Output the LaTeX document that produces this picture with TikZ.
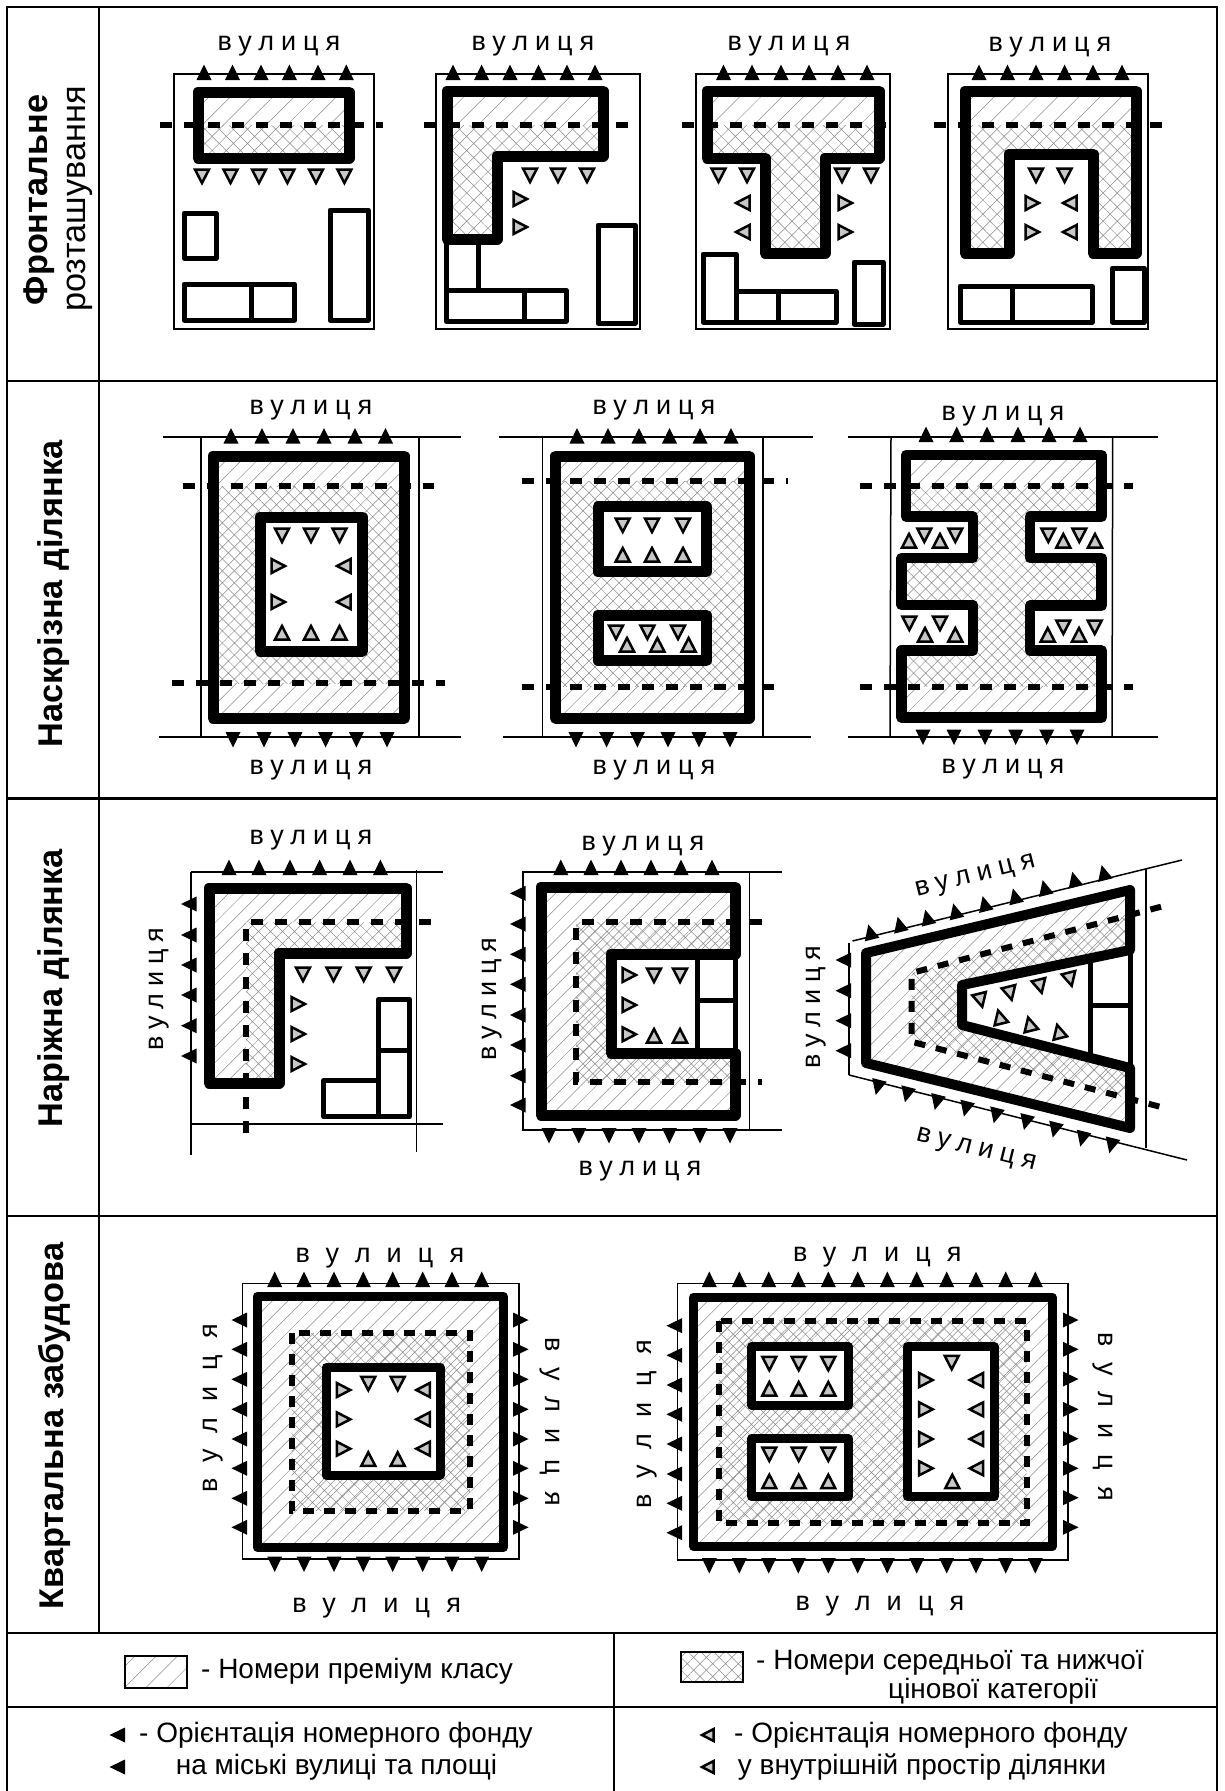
\documentclass[tikz,border=0pt]{standalone}
\usepackage{fontspec}
\setmainfont{Liberation Sans}
\newfontfamily\vulfont[LetterSpace=26]{Liberation Sans}
\newfontfamily\vulwide[LetterSpace=60]{Liberation Sans}
\usetikzlibrary{patterns.meta}
\definecolor{trigray}{gray}{0.78}
\tikzset{
  frame/.style={line width=2.6pt},
  site/.style={line width=1.5pt},
  wall/.style={line width=11pt,line join=round},
  bld/.style={line width=5pt,line join=round},
  cutl/.style={line width=6pt,dash pattern=on 12pt off 12pt},
  prem/.style={pattern={Lines[angle=45,distance=#1,line width=.5pt]},pattern color=black!45},
  prem/.default=11pt,
  midp/.style={pattern={Hatch[angle=45,distance=#1,line width=.5pt]},pattern color=black!45},
  midp/.default=8.5pt,
  intri/.style={draw=black,fill=trigray,line width=2.5pt,line join=miter},
  vul/.style={font=\fontsize{27}{30}\selectfont\vulfont,inner sep=0pt,text height=14pt,text depth=0pt},
  vulw/.style={font=\fontsize{27}{30}\selectfont\vulwide,inner sep=0pt,text height=14pt,text depth=0pt},
  rowb/.style={font=\fontsize{34.3}{38}\selectfont\bfseries,inner sep=0pt,rotate=90},
  rowr/.style={font=\fontsize{34.3}{38}\selectfont,inner sep=0pt,rotate=90},
  leg/.style={font=\fontsize{28}{32}\selectfont,anchor=west,inner sep=0pt}
}
\newcommand{\strarrow}[4][1]{\fill[shift={(#2,#3)},rotate=#4,scale=#1] (-7.5,7) -- (7.5,7) -- (0,-8.5) -- cycle;}
\newcommand{\inarrow}[4][1]{\path[intri,shift={(#2,#3)},rotate=#4,scale=#1] (-7,6.5) -- (7,6.5) -- (0,-7) -- cycle;}
\newcommand{\strh}[3]{\foreach \px in {#1} {\strarrow{\px}{#2}{#3}}}
\newcommand{\strv}[3]{\foreach \py in {#2} {\strarrow{#1}{\py}{#3}}}
\newcommand{\inh}[3]{\foreach \px in {#1} {\inarrow{\px}{#2}{#3}}}
\newcommand{\inv}[3]{\foreach \py in {#2} {\inarrow{#1}{\py}{#3}}}
\begin{document}
\begin{tikzpicture}[x=1pt,y=-1pt]
\useasboundingbox (0,0) rectangle (1224,1791);
\fill[white] (0,0) rectangle (1224,1791);
\draw[frame] (7,1791) -- (7,7) -- (1217,7) -- (1217,1791);
\draw[frame] (99,7) -- (99,1633);
\draw[frame] (614,1633) -- (614,1791);
\draw[frame] (7,381) -- (1217,381);
\draw[frame] (7,798.5) -- (1217,798.5);
\draw[frame] (7,1216) -- (1217,1216);
\draw[frame] (7,1633) -- (1217,1633);
\draw[frame] (7,1707) -- (1217,1707);
\node[rowb] (rowfront) at (39,200) {Фронтальне};
\node[rowr] (rowfronttwo) at (80,199) {розташування};
\node[rowb] (rowthrough) at (54,594) {Наскрізна ділянка};
\node[rowb] (rowcorner) at (54,988) {Наріжна ділянка};
\node[rowb] (rowblock) at (54,1426) {Квартальна забудова};

\draw[site] (174,74) rectangle (374,329);
\strh{204,232.5,261,289.4,318,346.3}{73}{0}
\fill[prem=15pt] (198,92) rectangle (349,125);
\fill[midp=10pt] (198,125) rectangle (349,158);
\draw[wall] (198,92) rectangle (349,158);
\draw[cutl] (160,125) -- (383,125);
\inh{202,230.5,259,287.4,316,344.4}{176}{180}
\draw[bld] (184,213) rectangle (216,258);
\draw[bld] (184,284) rectangle (294.5,320);
\draw[bld] (251,284) -- (251,320);
\draw[bld] (330,210) rectangle (368,320);
\node[vul] (vula) at (279,43) {вулиця};

\draw[site] (436,74) rectangle (640,329);
\strh{453,481.6,510,538.5,567,595}{73}{0}
\fill[prem=15pt] (447,91) rectangle (603,125);
\fill[midp=10pt] (447,125) -- (603,125) -- (603,156) -- (497,156) -- (497,239) -- (447,239) -- cycle;
\draw[bld] (446,239) rectangle (478,290);
\draw[bld] (446,290) rectangle (566,321);
\draw[bld] (524,290) -- (524,321);
\draw[bld] (598,225) rectangle (635,323);
\draw[wall] (447,91) -- (603,91) -- (603,156) -- (497,156) -- (497,239) -- (447,239) -- cycle;
\draw[cutl] (423.5,125) -- (630,125);
\inh{530,558,587}{175}{180}
\inv{520}{199,227}{-90}
\node[vul] (vulb) at (533,43) {вулиця};

\draw[site] (696,74) rectangle (890,329);
\strh{723.5,752,781,809,838,867}{73}{0}
\fill[prem=15pt] (707,91) rectangle (879,125);
\fill[midp=10pt] (707,125) -- (879,125) -- (879,158) -- (825,158) -- (825,253) -- (765,253) -- (765,158) -- (707,158) -- cycle;
\draw[wall] (707,91) -- (879,91) -- (879,158) -- (825,158) -- (825,253) -- (765,253) -- (765,158) -- (707,158) -- cycle;
\draw[cutl] (682,125) -- (890,125);
\inh{718.5,747,842,871}{175}{180}
\inv{743}{203,232}{90}
\inv{845}{203,232}{-90}
\draw[bld] (703,254) rectangle (736,322);
\draw[bld] (736,291) rectangle (836,322);
\draw[bld] (778,291) -- (778,322);
\draw[bld] (854,262) rectangle (883,324);
\node[vul] (vulc) at (789,43) {вулиця};

\draw[site] (948,74) rectangle (1148,329);
\strh{979,1007.5,1036,1064.6,1093,1122}{73}{0}
\fill[prem=15pt] (965,91) rectangle (1136,125);
\fill[midp=10pt] (965,125) -- (1136,125) -- (1136,253) -- (1093,253) -- (1093,154) -- (1009,154) -- (1009,253) -- (965,253) -- cycle;
\draw[wall] (965,91) -- (1136,91) -- (1136,253) -- (1093,253) -- (1093,154) -- (1009,154) -- (1009,253) -- (965,253) -- cycle;
\draw[cutl] (934,125) -- (1165,125);
\inh{1036,1064.6}{175}{180}
\inv{1032}{203,232}{-90}
\inv{1070}{203,232}{90}
\draw[bld] (960,286) rectangle (1092,322);
\draw[bld] (1012.5,286) -- (1012.5,322);
\draw[bld] (1112.5,268) rectangle (1144,322);
\node[vul] (vuld) at (1050,44) {вулиця};

\draw[site] (163,437) -- (461,437);
\draw[site] (159,737) -- (461,737);
\draw[site] (201,437) -- (201,737);
\draw[site] (419,437) -- (419,737);
\strh{231,262,293,324,355,385.5}{436.5}{0}
\strh{233,264,295,325.6,356.4,387}{739}{180}
\fill[prem] (213,456) rectangle (404.5,486);
\fill[midp] (213,486) rectangle (404.5,683);
\fill[prem] (213,683) rectangle (404.5,718);
\fill[white] (260,517) rectangle (362.5,651);
\draw[wall] (213,456) rectangle (404.5,718);
\draw[wall] (260,517) rectangle (362.5,651);
\draw[cutl] (182.5,486) -- (434,486);
\draw[cutl] (172,683) -- (445,683);
\inh{282,311,339.5}{535}{180}
\inh{282,311,339.5}{633}{0}
\inv{278}{566,602}{-90}
\inv{344}{566,602}{90}
\node[vul] (vule) at (311,407) {вулиця};
\node[vul] (vulf) at (311,767) {вулиця};

\draw[site] (499,437) -- (812.5,437);
\draw[site] (503,737) -- (811,737);
\draw[site] (542.5,437) -- (542.5,737);
\draw[site] (763,437) -- (763,737);
\strh{577,608,639,669.5,700,731}{436.5}{0}
\strh{576,606.6,637.4,668,699,730}{739}{180}
\fill[prem] (555.5,456) rectangle (749,481);
\fill[midp] (555.5,481) rectangle (749,686.7);
\fill[prem] (555.5,686.7) rectangle (749,718);
\fill[white] (598,506.7) rectangle (706,571.7);
\fill[white] (598,615) rectangle (706,660.7);
\draw[wall] (555.5,456) rectangle (749,718);
\draw[wall] (598,506.7) rectangle (706,571.7);
\draw[wall] (598,615) rectangle (706,660.7);
\draw[cutl] (521.6,481) -- (788,481);
\draw[cutl] (521.6,686.7) -- (783,686.7);
\inh{622.7,652,683}{525}{180}
\inh{622.7,652,683}{555}{0}
\inh{616,647.4,678}{632}{180}
\inh{627,657.4,688.6}{645}{0}
\node[vul] (vulg) at (654,407) {вулиця};
\node[vul] (vulh) at (654,767) {вулиця};

\draw[site] (848,437) -- (1158,437);
\draw[site] (848,737) -- (1158,737);
\draw[site] (891,437) -- (890,737);
\draw[site] (1112.7,437) -- (1112,737);
\strh{926,956.7,987,1018,1049,1080}{435}{0}
\strh{923,954,985,1015.7,1046.7,1077}{736.5}{180}
\fill[prem] (906,455) rectangle (1101.7,486);
\fill[midp] (906,486) -- (1101.7,486) -- (1101.7,516.7) -- (1030,516.7) -- (1030,558) -- (1101.7,558) -- (1101.7,605.7) -- (1030,605.7) -- (1030,650.7) -- (1101.7,650.7) -- (1101.7,686.7) -- (901.7,686.7) -- (901.7,650.7) -- (973,650.7) -- (973,605) -- (901.7,605) -- (901.7,558) -- (973,558) -- (973,516.7) -- (906,516.7) -- cycle;
\fill[prem] (901.7,686.7) rectangle (1101.7,717.7);
\draw[wall,line width=10.5pt] (906,455) -- (1101.7,455) -- (1101.7,516.7) -- (1030,516.7) -- (1030,558) -- (1101.7,558) -- (1101.7,605.7) -- (1030,605.7) -- (1030,650.7) -- (1101.7,650.7) -- (1101.7,717.7) -- (901.7,717.7) -- (901.7,650.7) -- (973,650.7) -- (973,605) -- (901.7,605) -- (901.7,558) -- (973,558) -- (973,516.7) -- (906,516.7) -- cycle;
\draw[cutl] (860,486) -- (1132.7,486);
\draw[cutl] (860,686.7) -- (1132.7,686.7);
\inh{909,940}{541}{0}
\inh{924.3,955.3}{535}{180}
\inh{1048.3,1079.3}{535}{180}
\inh{1063.3,1095}{541}{0}
\inh{909.3,940}{623}{180}
\inh{925,955.3}{635}{0}
\inh{1047.7,1079}{635}{0}
\inh{1063.3,1094.7}{627}{180}
\node[vul] (vuli) at (1003,413) {вулиця};
\node[vul] (vulj) at (1003,766) {вулиця};

\draw[site] (191,872) -- (443,872);
\draw[site] (191,1124) -- (443,1124);
\draw[site] (191,872) -- (191,1155);
\draw[site] (416.7,870) -- (416.7,1152);
\strh{229,259,290,319.6,350,380.4}{868}{0}
\strv{189.5}{904,935,965,995,1025.7,1056}{90}
\fill[prem] (209,888) -- (406,888) -- (406,922) -- (246,922) -- (246,1083) -- (209,1083) -- cycle;
\fill[midp] (246,922) -- (406,922) -- (406,953) -- (279,953) -- (279,1083) -- (246,1083) -- cycle;
\draw[wall] (209,888) -- (406,888) -- (406,953) -- (279,953) -- (279,1083) -- (209,1083) -- cycle;
\draw[cutl] (430.6,922) -- (246,922) -- (246,1133);
\inh{303,333.5,363.7,394}{974}{180}
\inv{298}{1004,1034,1064}{-90}
\draw[bld] (378.4,999.3) rectangle (409.4,1116.7);
\draw[bld] (378.4,1050.7) -- (409.4,1050.7);
\draw[bld] (323.7,1080.7) rectangle (378.4,1116.7);
\node[vul] (vulk) at (311,837) {вулиця};
\node[vul,rotate=90] (vull) at (156,989) {вулиця};

\draw[site] (782,872) -- (523,872) -- (523,1130) -- (782,1130);
\draw[site] (749.4,872) -- (749.4,1130);
\strh{560.8,591,621,651,681,712}{868}{0}
\strv{518.5}{893.3,924,954.3,984.3,1015,1045,1075.7,1105}{90}
\strh{549,578.8,609,639,669.4,700,730}{1135}{180}
\fill[prem] (541,887) rectangle (735,1115);
\fill[midp] (576,922) rectangle (735,1082);
\fill[white] (611,954) rectangle (735,1053);
\draw[bld] (697,954) rectangle (735,1053);
\draw[bld] (697,1000.7) -- (735,1000.7);
\draw[wall] (541,887) -- (735,887) -- (735,954) -- (611,954) -- (611,1053) -- (735,1053) -- (735,1115) -- (541,1115) -- cycle;
\draw[cutl] (761.6,922) -- (576,922) -- (576,1082) -- (762,1082);
\inv{629}{975,1005,1034.3}{-90}
\inh{654,680}{975}{180}
\inh{654,680}{1036}{0}
\node[vul] (vulm) at (643,843) {вулиця};
\node[vul] (vuln) at (640,1168) {вулиця};
\node[vul,rotate=90] (vulo) at (489,999) {вулиця};

\draw[site] (852.5,941) -- (1182,860);
\draw[site] (849,1075) -- (1187,1160);
\draw[site] (849,943) -- (849,1075);
\draw[site] (1146,869) -- (1146,1148);
\foreach \px/\py in {870.4/932.7,899.7/925,927.3/918,955.3/911.7,984.7/904.3,1015/896.7,1044.7/888.3,1074.3/880,1103.7/873.3} {\strarrow{\px}{\py}{14}}
\strv{844}{960,990.7,1020.7,1050.7}{90}
\foreach \px/\py in {877.8/1086.7,907/1094,936.8/1101.7,966/1108.3,995.8/1115,1026/1121.7,1054.8/1129.3,1082.4/1138.3,1111.4/1145} {\strarrow{\px}{\py}{166}}
\fill[prem] (866,953) -- (1130,890) -- (1130,1128) -- (866,1063) -- cycle;
\fill[midp] (911.5,973) -- (1130,915) -- (1130,1099) -- (911.5,1042) -- cycle;
\fill[white] (962,985) -- (1130,950) -- (1130,1068) -- (962,1025) -- cycle;
\draw[bld] (1090,958.3) -- (1090,1057.8);
\draw[bld] (1130,950) -- (1130,1068);
\draw[bld] (1090,1005) -- (1130,1005);
\draw[wall,line width=10pt] (866,953) -- (1130,890) -- (1130,950) -- (962,985) -- (962,1025) -- (1130,1068) -- (1130,1128) -- (866,1063) -- cycle;
\draw[cutl,dash pattern=on 11pt off 11pt] (1161,906.7) -- (911.5,973) -- (911.5,1041.7) -- (1161,1107);
\foreach \px/\py in {980.6/1000,1010/993,1040/986,1070/979} {\inarrow{\px}{\py}{194}}
\foreach \px/\py in {999.8/1017.3,1029.8/1024.3,1058.8/1031.7} {\inarrow{\px}{\py}{14}}
\node[vul,rotate=14] (vulp) at (975,875) {вулиця};
\node[vul,rotate=-14] (vulq) at (976.6,1148.3) {вулиця};
\node[vul,rotate=90] (vulr) at (813,1007) {вулиця};

\draw[site] (242.3,1283.3) rectangle (519,1559);
\strh{274.7,304,334,363.3,392.7,422.7,452,481.7}{1280}{0}
\strh{274.7,304,334,363.3,392.7,422.7,452,481.7}{1563.5}{180}
\strv{240}{1320,1349.3,1379.3,1409.3,1439,1468.3,1498.3,1527.3}{90}
\strv{520}{1320,1349.3,1379.3,1409.3,1439,1468.3,1498.3,1527.3}{-90}
\fill[prem] (257.3,1296.3) rectangle (503.3,1547.3);
\fill[midp] (291.7,1333.3) rectangle (470,1510.7);
\fill[white] (326,1367.3) rectangle (440,1475);
\draw[wall,line width=9pt] (257.3,1296.3) rectangle (503.3,1547.3);
\draw[wall,line width=9pt] (326,1367.3) rectangle (440,1475);
\draw[cutl,dash pattern=on 11pt off 10pt] (291.7,1333.3) rectangle (470,1510.7);
\inv{343.3}{1390,1419.3,1448.7}{-90}
\inv{423.3}{1390,1419.3,1448.7}{90}
\inh{368.3,397.7}{1383.3}{180}
\inh{368.3,397.7}{1459.3}{0}
\node[vulw] (vuls) at (380,1255) {вулиця};
\node[vulw] (vult) at (376.7,1605) {вулиця};
\node[vulw,rotate=90] (vulu) at (210,1408.3) {вулиця};
\node[vulw,rotate=-90] (vulv) at (552.7,1421.7) {вулиця};

\draw[site] (677.3,1283.3) rectangle (1068,1560);
\strh{709.3,739.3,768.7,798.3,828.3,857.7,887.3,916.7,946.7,976,1005.7,1035.3}{1280}{0}
\strh{709.3,739.3,768.7,798.3,828.3,857.7,887.3,916.7,946.7,976,1005.7,1035.3}{1565}{180}
\strv{675}{1325.7,1355.3,1385,1414.3,1444,1474,1503.3,1532.7}{90}
\strv{1070}{1320,1349.3,1379,1409.3,1438.7,1468.3,1497.7,1527.3}{-90}
\fill[prem] (693.7,1297) rectangle (1052,1546.7);
\fill[midp] (719,1320.7) rectangle (1026.7,1523.3);
\fill[white] (751.7,1346.7) rectangle (848.3,1405);
\fill[white] (751.7,1438.7) rectangle (848.3,1496.7);
\fill[white] (907,1346.7) rectangle (994.3,1496.7);
\draw[wall,line width=9pt] (693.7,1297) rectangle (1052,1546.7);
\draw[wall,line width=9pt] (751.7,1346.7) rectangle (848.3,1405);
\draw[wall,line width=9pt] (751.7,1438.7) rectangle (848.3,1496.7);
\draw[wall,line width=9pt] (907,1346.7) rectangle (994.3,1496.7);
\draw[cutl,dash pattern=on 11pt off 10pt] (719,1320.7) rectangle (1026.7,1523.3);
\inh{769.3,798.7,828.3}{1363.3}{180}
\inh{769.3,798.7,828.3}{1389}{0}
\inh{769.3,798.7,828.3}{1454}{180}
\inh{769.3,798.7,828.3}{1481.7}{0}
\inarrow{951.7}{1362.3}{180}
\inarrow{952.3}{1481.7}{0}
\inv{925.7}{1380,1409.3,1439,1468.3}{-90}
\inv{976.7}{1380,1409.3,1439,1468.3}{90}
\node[vulw] (vulw) at (877.3,1254) {вулиця};
\node[vulw] (vulx) at (880,1603.3) {вулиця};
\node[vulw,rotate=90] (vuly) at (644,1424) {вулиця};
\node[vulw,rotate=-90] (vulz) at (1105.7,1416.7) {вулиця};

\fill[prem=15pt] (125,1656) rectangle (187,1688);
\draw[site] (125,1656) rectangle (187,1688);
\node[leg] (legprem) at (201,1671.7) {- Номери преміум класу};
\fill[midp=9pt] (681,1652) rectangle (743,1682);
\draw[site] (681,1652) rectangle (743,1682);
\node[leg] (legmid) at (756,1663) {- Номери середньої та нижчої};
\node[leg] (legmidtwo) at (888,1691.7) {цінової категорії};
\strarrow{118}{1735}{90}
\strarrow{118}{1767}{90}
\node[leg] (legout) at (139,1735) {- Орієнтація номерного фонду};
\node[leg] (legouttwo) at (175.6,1767) {на міські вулиці та площі};
\inarrow[.85]{708}{1735}{90}
\inarrow[.85]{708}{1767}{90}
\node[leg] (legin) at (734,1735) {- Орієнтація номерного фонду};
\node[leg] (legintwo) at (737.7,1767) {у внутрішній простір ділянки};
\end{tikzpicture}
\end{document}
